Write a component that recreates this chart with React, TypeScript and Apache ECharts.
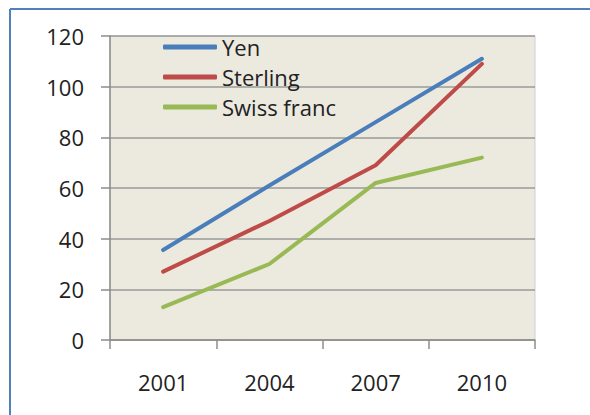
import React, { useEffect, useRef } from "react";
import * as echarts from "echarts";

const years = ["2001", "2004", "2007", "2010"];
const yen = [35.5, 61, 86, 111];
const sterling = [27, 47, 69, 109];
const swissFranc = [13, 30, 62, 72];

export default function App() {
  const ref = useRef<HTMLDivElement>(null);
  useEffect(() => {
    const chart = echarts.init(ref.current!, null, { renderer: "svg" });
    const font = "'Open Sans', Lato, sans-serif";
    chart.setOption({
      animation: false,
      backgroundColor: "#ffffff",
      graphic: [
        { type: "line", shape: { x1: 10, y1: 9, x2: 590, y2: 9 }, style: { stroke: "#4F81BD", lineWidth: 2 } },
        { type: "line", shape: { x1: 10, y1: 9, x2: 10, y2: 415 }, style: { stroke: "#4F81BD", lineWidth: 2 } },
      ],
      grid: {
        left: 110,
        right: 55,
        top: 36,
        bottom: 75,
        show: true,
        backgroundColor: "#ECE9DF",
        borderColor: "#CFCFCF",
        borderWidth: 1,
      },
      legend: {
        orient: "vertical",
        left: 163,
        top: 32,
        padding: 0,
        itemWidth: 54,
        itemHeight: 5,
        itemGap: 0,
        icon: "roundRect",
        textStyle: { fontSize: 22, lineHeight: 30, color: "#222", fontFamily: font },
      },
      xAxis: {
        type: "category",
        data: years,
        boundaryGap: true,
        axisLine: { show: true, lineStyle: { color: "#8C8C8C", width: 1.5 } },
        axisTick: { show: true, length: 9, lineStyle: { color: "#8C8C8C", width: 1.5 } },
        axisLabel: { fontSize: 22, color: "#222", fontFamily: font, margin: 31 },
      },
      yAxis: {
        type: "value",
        min: 0,
        max: 120,
        interval: 20,
        axisLine: { show: true, lineStyle: { color: "#8C8C8C", width: 1.5 } },
        axisTick: { show: true, length: 9, lineStyle: { color: "#8C8C8C", width: 1.5 } },
        axisLabel: { fontSize: 22, color: "#222", fontFamily: font, margin: 26 },
        splitLine: { show: true, lineStyle: { color: "#9A9A9A", width: 1.5 } },
      },
      series: [
        { name: "Yen", type: "line", data: yen, showSymbol: false, color: "#4A7EBB", lineStyle: { width: 4, cap: "round" } },
        { name: "Sterling", type: "line", data: sterling, showSymbol: false, color: "#BE4B48", lineStyle: { width: 4, cap: "round" } },
        { name: "Swiss franc", type: "line", data: swissFranc, showSymbol: false, color: "#98B954", lineStyle: { width: 4, cap: "round" } },
      ],
    });
    return () => chart.dispose();
  }, []);
  return <div ref={ref} style={{ position: "fixed", left: 0, top: 0, width: 590, height: 415 }} />;
}
